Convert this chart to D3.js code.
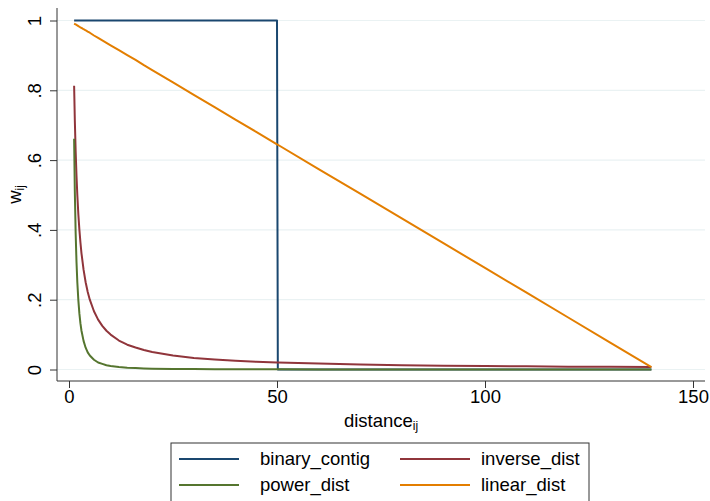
<!DOCTYPE html>
<html><head><meta charset="utf-8">
<script src="https://cdn.jsdelivr.net/npm/d3@7/dist/d3.min.js"></script>
<style>body{margin:0;background:#fff}svg{display:block}text{font-family:Arial,"Liberation Sans",sans-serif;fill:#000}</style>
</head><body>
<script>
const distance = [1.23,1.4,1.6,1.8,2,2.25,2.5,2.75,3,3.5,4,4.5,5,6,7,8,9,10,12,14,16,18,20,25,30,35,40,45,50,50.2,60,70,80,90,100,110,120,130,140];
const binaryContig = [1,1,1,1,1,1,1,1,1,1,1,1,1,1,1,1,1,1,1,1,1,1,1,1,1,1,1,1,1,0,0,0,0,0,0,0,0,0,0];
const inverseDist = [0.813,0.714,0.625,0.556,0.5,0.444,0.4,0.364,0.333,0.286,0.25,0.222,0.2,0.167,0.143,0.125,0.111,0.1,0.083,0.071,0.063,0.056,0.05,0.04,0.033,0.029,0.025,0.022,0.02,0.02,0.017,0.014,0.0125,0.011,0.01,0.009,0.008,0.008,0.007];
const powerDist = [0.661,0.51,0.391,0.309,0.25,0.198,0.16,0.132,0.111,0.082,0.0625,0.049,0.04,0.028,0.02,0.016,0.012,0.01,0.007,0.005,0.004,0.003,0.0025,0.0016,0.0011,0.0008,0.0006,0.0005,0.0004,0.0004,0.0003,0.0002,0.00016,0.00012,0.0001,0.0001,0.0001,0.0001,0.0001];
const linearDist = [0.991,0.99,0.989,0.987,0.986,0.984,0.982,0.98,0.979,0.975,0.972,0.968,0.965,0.957,0.95,0.943,0.936,0.929,0.915,0.901,0.887,0.872,0.858,0.823,0.787,0.752,0.716,0.681,0.645,0.644,0.574,0.504,0.433,0.362,0.291,0.22,0.149,0.078,0.007];
const seriesNames = ["binary_contig","inverse_dist","power_dist","linear_dist"];
const seriesColors = ["#1a476f","#90353b","#55752f","#e37e00"];
const xTicks = [0,50,100,150];
const yTicks = [0,0.2,0.4,0.6,0.8,1];
const yTickLabels = ["0",".2",".4",".6",".8","1"];

const W=710,H=501,FS=18.5,SUB=12;
const svg=d3.select("body").append("svg").attr("width",W).attr("height",H);
const plot={l:57,r:705,t:8,b:381};
const x=d3.scaleLinear().domain([0,150]).range([69,693]);
const y=d3.scaleLinear().domain([0,1]).range([369.5,20.5]);

// gridlines
svg.append("g").selectAll("line").data(yTicks).join("line")
  .attr("x1",plot.l).attr("x2",plot.r).attr("y1",d=>y(d)).attr("y2",d=>y(d))
  .attr("stroke","#eaf2f3").attr("stroke-width",1.2);

// axes
const yAxis=d3.axisLeft(y).tickValues(yTicks).tickFormat((d,i)=>yTickLabels[i]).tickSize(7).tickSizeOuter(0);
const gy=svg.append("g").attr("transform",`translate(${plot.l},0)`).call(yAxis);
gy.select(".domain").attr("d",`M0,${plot.t}V${plot.b}`).attr("stroke","#333");
gy.selectAll(".tick line").attr("stroke","#333");
gy.selectAll(".tick text").attr("font-size",FS).attr("transform","rotate(-90)")
  .attr("x",0).attr("y",-16).attr("dy",0).attr("text-anchor","middle");

const xAxis=d3.axisBottom(x).tickValues(xTicks).tickSize(7).tickSizeOuter(0);
const gx=svg.append("g").attr("transform",`translate(0,${plot.b})`).call(xAxis);
gx.select(".domain").attr("d",`M${plot.l},0H${plot.r}`).attr("stroke","#333");
gx.selectAll(".tick line").attr("stroke","#333");
gx.selectAll(".tick text").attr("font-size",FS).attr("y",9).attr("dy","0.71em");
svg.selectAll(".tick text").style("font-family","Arial, 'Liberation Sans', sans-serif").attr("fill","#000");

// titles
const xt=svg.append("text").attr("x",(plot.l+plot.r)/2).attr("y",427).attr("text-anchor","middle").attr("font-size",FS);
xt.append("tspan").text("distance");
xt.append("tspan").text("ij").attr("font-size",SUB).attr("dy",3);
const yt=svg.append("text").attr("transform",`translate(21,${(plot.t+plot.b)/2}) rotate(-90)`).attr("text-anchor","middle").attr("font-size",FS);
yt.append("tspan").text("w");
yt.append("tspan").text("ij").attr("font-size",SUB).attr("dy",3);

// series
const allSeries=[binaryContig,inverseDist,powerDist,linearDist];
const line=d3.line().x(d=>x(d[0])).y(d=>y(d[1]));
allSeries.forEach((s,i)=>{
  svg.append("path").datum(distance.map((d,j)=>[d,s[j]]))
    .attr("d",line).attr("fill","none").attr("stroke",seriesColors[i]).attr("stroke-width",2).attr("stroke-linejoin","round");
});

// legend
const lg=svg.append("g");
lg.append("rect").attr("x",171).attr("y",443).attr("width",418).attr("height",62).attr("fill","#fff").attr("stroke","#333").attr("stroke-width",1);
const cols=[{lx:179,len:60,tx:260},{lx:400,len:70,tx:481}];
const rows=[459,485];
seriesNames.forEach((n,i)=>{
  const c=cols[i%2], r=rows[Math.floor(i/2)];
  lg.append("line").attr("x1",c.lx).attr("x2",c.lx+c.len).attr("y1",r).attr("y2",r).attr("stroke",seriesColors[i]).attr("stroke-width",2);
  lg.append("text").attr("x",c.tx).attr("y",r+6).attr("font-size",FS).text(n);
});
</script>
</body></html>
